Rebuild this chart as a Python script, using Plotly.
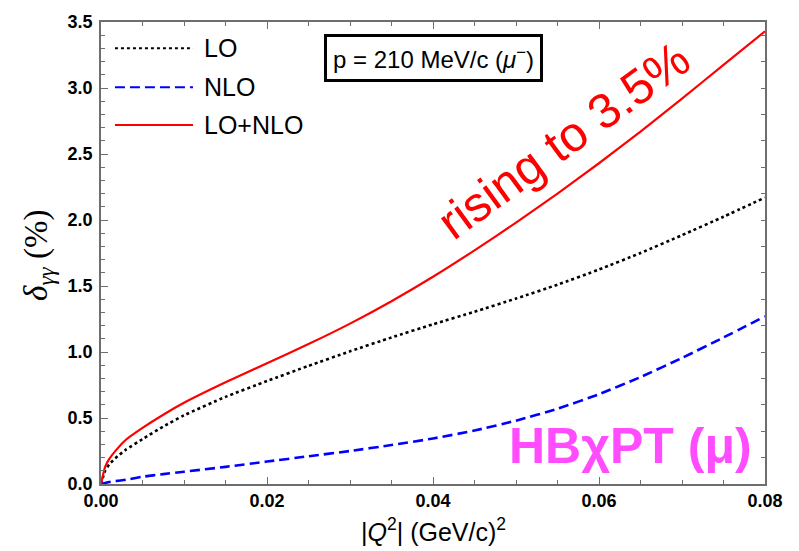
import plotly.graph_objects as go

# |Q^2| grid in (GeV/c)^2
q2 = [0.0, 0.0005, 0.001, 0.002, 0.003, 0.005, 0.0075, 0.01, 0.015, 0.02, 0.025,
      0.03, 0.035, 0.04, 0.045, 0.05, 0.055, 0.06, 0.065, 0.07, 0.075, 0.08]

# two-photon exchange correction delta_gamma-gamma in %
lo = [0.0, 0.10, 0.15, 0.21, 0.26, 0.34, 0.435, 0.52, 0.66, 0.78, 0.895,
      1.005, 1.11, 1.21, 1.305, 1.405, 1.51, 1.625, 1.75, 1.885, 2.025, 2.17]
nlo = [0.0, 0.008, 0.015, 0.024, 0.032, 0.055, 0.075, 0.093, 0.13, 0.17, 0.21,
       0.25, 0.295, 0.345, 0.405, 0.48, 0.57, 0.68, 0.81, 0.955, 1.11, 1.27]
lo_nlo = [0.0, 0.13, 0.19, 0.27, 0.335, 0.425, 0.525, 0.615, 0.77, 0.915, 1.06,
          1.215, 1.385, 1.57, 1.77, 1.98, 2.20, 2.43, 2.67, 2.92, 3.175, 3.43]

series = [
    ("LO", lo, "black", "3px,3px", 2.6),
    ("NLO", nlo, "#0000ff", "10px,5px", 2.6),
    ("LO+NLO", lo_nlo, "#ff0000", "solid", 2.2),
]

fig = go.Figure()
for name, ys, color, dash, width in series:
    fig.add_trace(go.Scatter(
        x=q2, y=ys, mode="lines", name=name, showlegend=False,
        line=dict(color=color, dash=dash, width=width, shape="spline", smoothing=0.5),
    ))

# invisible trace so the right-hand tick axis is drawn
fig.add_trace(go.Scatter(x=[q2[0]], y=[lo[0]], yaxis="y2", mode="markers",
                         marker=dict(opacity=0), showlegend=False, hoverinfo="skip"))

frame = "#6e6e6e"
tickfont = dict(family="Liberation Sans", size=18, color="black", weight="bold")

fig.update_layout(
    width=799, height=551,
    margin=dict(l=101, r=34, t=20, b=67),
    plot_bgcolor="white", paper_bgcolor="white",
    xaxis=dict(
        range=[0, 0.08], tickvals=[0, 0.02, 0.04, 0.06, 0.08],
        ticktext=["0.00", "0.02", "0.04", "0.06", "0.08"],
        ticks="inside", ticklen=7, tickwidth=1, tickcolor=frame,
        minor=dict(dtick=0.005, tick0=0, ticks="inside", ticklen=4, tickcolor=frame, showgrid=False),
        showline=True, linecolor=frame, linewidth=1.5, mirror="ticks",
        showgrid=False, zeroline=False, tickfont=tickfont,
    ),
    yaxis=dict(
        range=[0, 3.5], tickvals=[0, 0.5, 1.0, 1.5, 2.0, 2.5, 3.0, 3.5],
        ticktext=["0.0", "0.5", "1.0", "1.5", "2.0", "2.5", "3.0", "3.5"],
        ticks="inside", ticklen=7, tickwidth=1, tickcolor=frame,
        minor=dict(dtick=0.1, tick0=0, ticks="inside", ticklen=4, tickcolor=frame, showgrid=False),
        showline=True, linecolor=frame, linewidth=1.5, mirror=True,
        showgrid=False, zeroline=False, tickfont=tickfont, ticklabelstandoff=3,
    ),
    yaxis2=dict(
        range=[0, 3.5], overlaying="y", side="right", dtick=0.2, tick0=0,
        ticks="inside", ticklen=4, tickwidth=1, tickcolor=frame,
        showticklabels=False, showgrid=False, zeroline=False, showline=False,
    ),
)

# axis titles
fig.add_annotation(xref="paper", yref="paper", x=0.5, y=-0.1, xanchor="center",
                   yanchor="middle", showarrow=False,
                   text="|<i>Q</i><sup>2</sup>| (GeV/c)<sup>2</sup>",
                   font=dict(family="Liberation Sans", size=25, color="black"))
fig.add_annotation(xref="paper", yref="paper", x=-0.094, y=0.495, textangle=-90,
                   xanchor="center", yanchor="middle", showarrow=False,
                   text="<i>δ</i><sub><i>γγ</i></sub> (%)",
                   font=dict(family="Liberation Serif", size=33, color="black"))

# legend drawn as sample lines plus labels
leg_y = [0.943, 0.859, 0.777]
for (name, _, color, dash, width), yy in zip(series, leg_y):
    fig.add_shape(type="line", xref="paper", yref="paper", x0=0.021, x1=0.1386,
                  y0=yy, y1=yy, line=dict(color=color, dash=dash, width=2))
    fig.add_annotation(xref="paper", yref="paper", x=0.152, y=yy, xanchor="left",
                       yanchor="middle", showarrow=False, text=name,
                       font=dict(family="Liberation Sans", size=25, color="black"))

# momentum box
fig.add_annotation(xref="paper", yref="paper", x=0.5, y=0.922, xanchor="center",
                   yanchor="middle", showarrow=False,
                   text="p = 210 MeV/c (<i>μ</i><sup>−</sup>)",
                   font=dict(family="Liberation Sans", size=24, color="black"),
                   bordercolor="black", borderwidth=3, borderpad=6, bgcolor="white")

fig.add_annotation(xref="paper", yref="paper", x=0.697, y=0.745, xanchor="center",
                   yanchor="middle", showarrow=False,
                   text="rising to 3.5%", textangle=-36,
                   font=dict(family="Liberation Sans", size=49, color="#ff0000"))

fig.add_annotation(xref="paper", yref="paper", x=0.798, y=0.082, xanchor="center",
                   yanchor="middle", showarrow=False,
                   text="HBχPT (μ)",
                   font=dict(family="Liberation Sans", size=50, color="#ff4cff", weight="bold"))

fig.write_html("out.html")
